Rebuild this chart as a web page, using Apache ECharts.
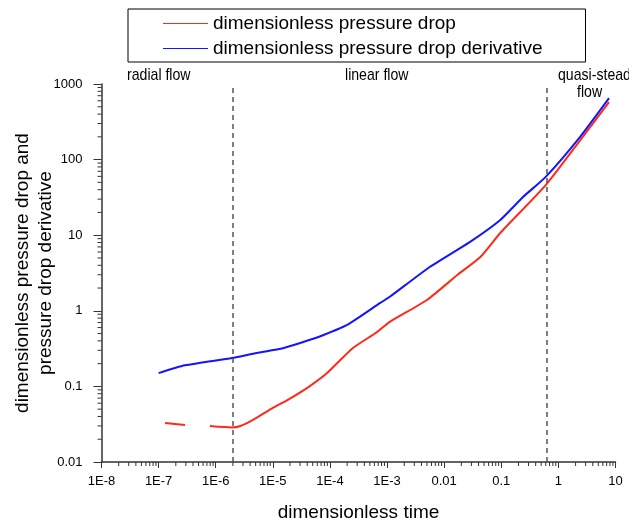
<!DOCTYPE html>
<html style="height: 100%">
<head>
  <meta charset="utf-8">
</head>
<body style="height: 100%; margin: 0; background: #fff">
  <div id="container" style="width: 629px; height: 525px"></div>
  <script type="text/javascript" src="https://cdn.jsdelivr.net/npm/echarts/dist/echarts.min.js"></script>
  <script type="text/javascript">
    // dimensionless pressure drop (a gap in the curve is marked with '-')
    var dropT   = [1.3e-7, 2.9e-7, 5e-7, 7.9e-7, 1.93e-6, 2.7e-6, 4.5e-6, 1e-5, 1.8e-5, 4.2e-5, 8.9e-5, 2.5e-4, 6.6e-4, 1.1e-3, 5e-3, 0.017, 0.043, 0.096, 0.6, 2.4, 7.7];
    var dropVal = [0.0328, 0.0308, '-', 0.0299, 0.0286, 0.0299, 0.036, 0.052, 0.066, 0.098, 0.15, 0.32, 0.52, 0.71, 1.39, 2.98, 5.15, 10.7, 46, 180, 577];

    // dimensionless pressure drop derivative
    var derivT   = [1e-7, 2.9e-7, 1.93e-6, 5.2e-6, 1.5e-5, 3.4e-5, 6.8e-5, 2e-4, 7.6e-4, 1.1e-3, 5.6e-3, 0.028, 0.096, 0.24, 0.6, 2.4, 7.7];
    var derivVal = [0.15, 0.19, 0.238, 0.277, 0.32, 0.386, 0.46, 0.65, 1.27, 1.52, 3.8, 8.1, 15.9, 32, 59, 200, 650];

    // flow regime boundaries
    var boundaries = [2e-6, 0.62];

    var xMin = 1e-8, xMax = 10, yMin = 0.01, yMax = 1000;
    var mantissas = [2, 3, 4, 5, 6, 7, 8, 9];

    function pairs(xs, ys) {
      return xs.map(function (x, i) { return [x, ys[i]]; });
    }

    // minor tick positions for the log axes
    var xMinor = [], yMinor = [];
    for (var e = -8; e < 1; e++) {
      mantissas.forEach(function (m) { xMinor.push([m * Math.pow(10, e), yMin]); });
    }
    for (var e2 = -2; e2 < 3; e2++) {
      mantissas.forEach(function (m) { yMinor.push([xMin, m * Math.pow(10, e2)]); });
    }

    function fmtX(v) {
      if (v >= 0.01) return String(+v.toPrecision(1));
      return '1E' + Math.round(Math.log10(v));
    }
    function fmtY(v) {
      return String(+v.toPrecision(1));
    }

    var font = 'Liberation Sans, Arial, sans-serif';

    function note(text, x, y) {
      return {
        type: 'text', x: x, y: y, scaleX: 0.83,
        style: { text: text, font: '17px ' + font, fill: '#000', textVerticalAlign: 'middle' }
      };
    }

    var dom = document.getElementById('container');
    var myChart = echarts.init(dom, null, { renderer: 'canvas' });

    var option = {
      animation: false,
      textStyle: { fontFamily: font },
      grid: { left: 101.5, right: 13.5, top: 84, bottom: 63, containLabel: false, outerBoundsMode: 'none' },
      legend: {
        data: ['dimensionless pressure drop', 'dimensionless pressure drop derivative'],
        orient: 'vertical',
        left: 128,
        top: 9,
        icon: 'rect',
        itemWidth: 45,
        itemHeight: 1.2,
        itemGap: 6,
        itemTextGap: 5,
        padding: [5, 43, 4, 35],
        borderColor: '#000',
        borderWidth: 1,
        textStyle: { fontSize: 19, color: '#000', fontFamily: font }
      },
      xAxis: {
        type: 'log',
        logBase: 10,
        min: xMin,
        max: xMax,
        interval: 1,
        name: 'dimensionless time',
        nameLocation: 'middle',
        nameGap: 41,
        nameMoveOverlap: false,
        nameTextStyle: { fontSize: 19, color: '#000', fontFamily: font },
        axisLine: { lineStyle: { color: '#333', width: 1.5 } },
        axisTick: { length: 6, lineStyle: { color: '#333' } },
        axisLabel: { formatter: fmtX, fontSize: 13, color: '#000', margin: 13, fontFamily: font },
        splitLine: { show: false }
      },
      yAxis: {
        type: 'log',
        logBase: 10,
        min: yMin,
        max: yMax,
        interval: 1,
        name: 'dimensionless pressure drop and\npressure drop derivative',
        nameLocation: 'middle',
        nameGap: 44,
        nameMoveOverlap: false,
        nameTextStyle: { fontSize: 19, lineHeight: 23, color: '#000', fontFamily: font },
        axisLine: { lineStyle: { color: '#333', width: 1.5 } },
        axisTick: { length: 8, lineStyle: { color: '#333' } },
        axisLabel: { formatter: fmtY, fontSize: 13, color: '#000', margin: 19, fontFamily: font },
        splitLine: { show: false }
      },
      series: [
        {
          name: 'dimensionless pressure drop',
          type: 'line',
          symbol: 'none',
          smooth: 0.2,
          color: '#ff2a1a',
          lineStyle: { width: 2 },
          data: pairs(dropT, dropVal)
        },
        {
          name: 'dimensionless pressure drop derivative',
          type: 'line',
          symbol: 'none',
          smooth: 0.2,
          color: '#1414ff',
          lineStyle: { width: 2 },
          data: pairs(derivT, derivVal),
          markLine: {
            silent: true,
            symbol: ['none', 'none'],
            label: { show: false },
            lineStyle: { type: [5, 4], color: '#555', width: 1.5 },
            data: boundaries.map(function (b) {
              return [{ coord: [b, yMin] }, { coord: [b, yMax] }];
            })
          }
        },
        {
          type: 'custom',
          silent: true,
          clip: false,
          data: xMinor,
          renderItem: function (params, api) {
            var p = api.coord([api.value(0), api.value(1)]);
            return { type: 'line', shape: { x1: p[0], y1: p[1], x2: p[0], y2: p[1] + 4 }, style: { stroke: '#333', lineWidth: 1 } };
          }
        },
        {
          type: 'custom',
          silent: true,
          clip: false,
          data: yMinor,
          renderItem: function (params, api) {
            var p = api.coord([api.value(0), api.value(1)]);
            return { type: 'line', shape: { x1: p[0] - 4, y1: p[1], x2: p[0], y2: p[1] }, style: { stroke: '#333', lineWidth: 1 } };
          }
        }
      ],
      graphic: [
        note('radial flow', 127, 75),
        note('linear flow', 345, 75),
        note('quasi-steady', 558, 75),
        note('flow', 577, 92)
      ]
    };

    myChart.setOption(option, true);
  </script>
</body>
</html>
